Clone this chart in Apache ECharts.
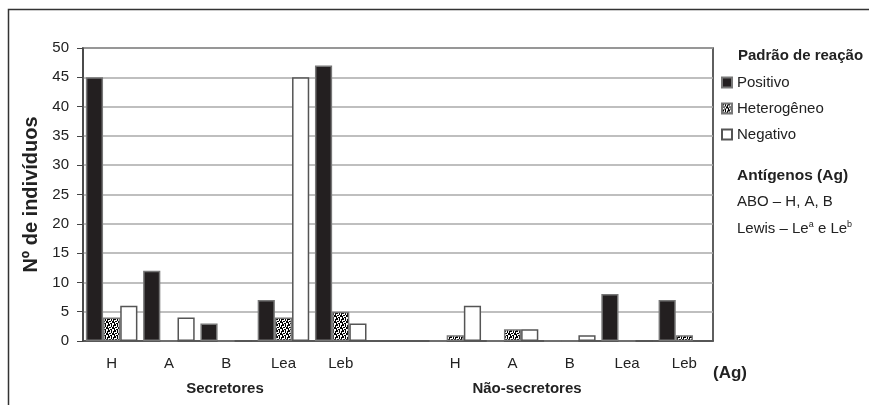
<!DOCTYPE html>
<html>
<head>
<meta charset="utf-8">
<script src="https://cdn.jsdelivr.net/npm/echarts@6/dist/echarts.min.js"></script>
<style>
  html, body { margin: 0; padding: 0; background: #fff; }
  #chart { width: 869px; height: 405px; }
</style>
</head>
<body>
<div id="chart"></div>
<script>
// categorias do eixo x (a sexta fica vazia para separar os grupos)
var categories = ['H', 'A', 'B', 'Lea', 'Leb', '', 'H', 'A', 'B', 'Lea', 'Leb'];
var positivo    = [45, 12, 3, 7, 47, null, 0, 0, 0, 8, 7];
var heterogeneo = [4, 0, 0, 4, 5, null, 1, 2, 0, 0, 1];
var negativo    = [6, 4, 0, 45, 3, null, 6, 2, 1, 0, 0];
var yTicks = { min: 0, max: 50, interval: 5 };

var FONT = '"Liberation Sans", Arial, sans-serif';

// textura pontilhada para "Heterogêneo"
function makeDots() {
    var c = document.createElement('canvas');
    c.width = 6; c.height = 6;
    var ctx = c.getContext('2d');
    ctx.fillStyle = '#fff';
    ctx.fillRect(0, 0, 6, 6);
    ctx.fillStyle = '#000';
    var pts = [[0,0,2,2],[3,0,1,2],[5,1,1,2],[1,3,2,1],[4,3,2,2],[0,4,1,2],[2,5,2,1],[3,2,1,1]];
    pts.forEach(function (p) { ctx.fillRect(p[0], p[1], p[2], p[3]); });
    return c;
}

var chart = echarts.init(document.getElementById('chart'));
chart.setOption({
    animation: false,
    textStyle: { fontFamily: FONT },
    grid: {
        left: 83, right: 156, top: 48, bottom: 64,
        show: true, borderColor: '#2b2b2b', borderWidth: 1.5
    },
    legend: {
        orient: 'vertical',
        left: 721, top: 75, padding: 0,
        itemWidth: 10, itemHeight: 10, itemGap: 11,
        icon: 'rect',
        textStyle: { fontFamily: FONT, fontSize: 15, color: '#222' },
        data: ['Positivo', 'Heterogêneo', 'Negativo']
    },
    xAxis: {
        type: 'category',
        data: categories,
        axisLine: { lineStyle: { color: '#444', width: 1.5 } },
        axisTick: { length: 5, lineStyle: { color: '#444', width: 1.2 } },
        axisLabel: { color: '#222', fontSize: 15, margin: 15, fontFamily: FONT }
    },
    yAxis: {
        type: 'value',
        min: yTicks.min, max: yTicks.max, interval: yTicks.interval,
        name: 'Nº de indivíduos',
        nameLocation: 'middle',
        nameGap: 40,
        nameTextStyle: { fontSize: 20, fontWeight: 'bold', color: '#222', fontFamily: FONT },
        axisLine: { show: true, lineStyle: { color: '#444', width: 1.5 } },
        axisTick: { show: true, length: 6, lineStyle: { color: '#444' } },
        axisLabel: { color: '#222', fontSize: 15, margin: 14, fontFamily: FONT },
        splitLine: { lineStyle: { color: '#aaa', width: 1.5 } }
    },
    series: [
        {
            name: 'Positivo', type: 'bar', data: positivo,
            barGap: '0%', barCategoryGap: '10%',
            itemStyle: { color: '#231f20', borderColor: '#777', borderWidth: 1.5 }
        },
        {
            name: 'Heterogêneo', type: 'bar', data: heterogeneo,
            itemStyle: {
                color: { image: makeDots(), repeat: 'repeat' },
                borderColor: '#777', borderWidth: 1.5
            }
        },
        {
            name: 'Negativo', type: 'bar', data: negativo,
            itemStyle: { color: '#fff', borderColor: '#555', borderWidth: 1.5 }
        }
    ],
    graphic: [
        {
            type: 'rect', z: -1, silent: true,
            shape: { x: 8.5, y: 9.5, width: 1000, height: 1000 },
            style: { fill: 'none', stroke: '#333', lineWidth: 1.5 }
        },
        {
            type: 'text', x: 738, y: 56,
            style: { text: 'Padrão de reação', font: 'bold 15px ' + FONT, fill: '#222', verticalAlign: 'middle' }
        },
        {
            type: 'text', x: 737, y: 176,
            style: { text: 'Antígenos (Ag)', font: 'bold 15.5px ' + FONT, fill: '#222', verticalAlign: 'middle' }
        },
        {
            type: 'text', x: 737, y: 202,
            style: { text: 'ABO – H, A, B', font: '15px ' + FONT, fill: '#222', verticalAlign: 'middle' }
        },
        {
            type: 'text', x: 737, y: 229,
            style: {
                text: 'Lewis – Le{s|a} e Le{s|b}',
                font: '15px ' + FONT, fill: '#222', verticalAlign: 'middle',
                rich: { s: { fontSize: 9, fontFamily: FONT, verticalAlign: 'top', padding: [0, 0, 8, 0] } }
            }
        },
        {
            type: 'text', x: 225, y: 389,
            style: { text: 'Secretores', font: 'bold 15px ' + FONT, fill: '#222', align: 'center', verticalAlign: 'middle' }
        },
        {
            type: 'text', x: 527, y: 389,
            style: { text: 'Não-secretores', font: 'bold 15px ' + FONT, fill: '#222', align: 'center', verticalAlign: 'middle' }
        },
        {
            type: 'text', x: 713, y: 373,
            style: { text: '(Ag)', font: 'bold 17px ' + FONT, fill: '#222', verticalAlign: 'middle' }
        }
    ]
});
</script>
</body>
</html>
